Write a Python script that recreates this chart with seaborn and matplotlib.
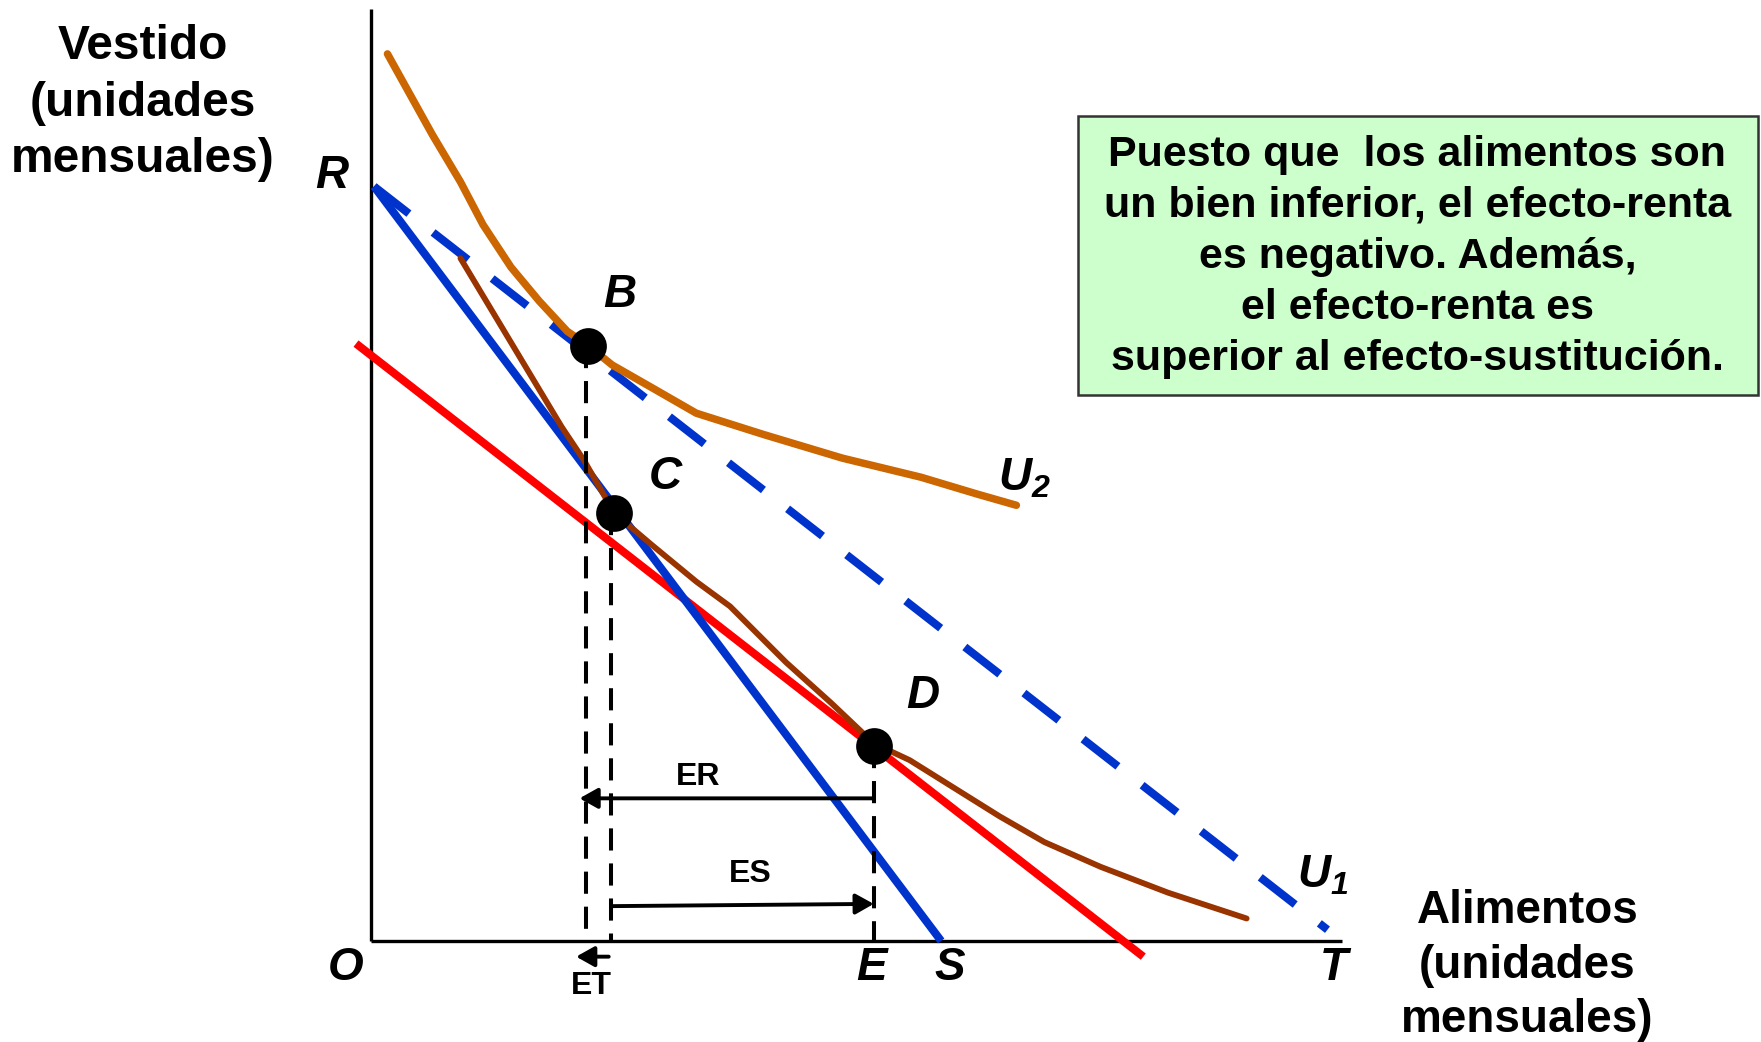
import numpy as np
import matplotlib
matplotlib.use("Agg")
import matplotlib.pyplot as plt
from matplotlib.patches import Rectangle
import seaborn as sns

# coordinates: origin O at the axes corner, units ~ pixels of the 1568-wide view
budget_rs_x = [3, 508]
budget_rs_y = [672, 0]
budget_rt_x = [3, 852]
budget_rt_y = [672, 10]
red_x = [-13, 688]
red_y = [532, -14]

u2_x = [15, 30, 55, 80, 100, 125, 150, 175, 194, 215, 250, 290, 350, 420, 490, 540, 575]
u2_y = [790, 763, 718, 676, 638, 600, 570, 543, 530, 513, 493, 470, 451, 430, 413, 398, 388]

u1_x = [80, 110, 140, 170, 190, 217, 250, 290, 320, 370, 410, 448, 480, 520, 560, 600, 650, 710, 780]
u1_y = [608, 558, 508, 458, 428, 381, 353, 320, 298, 248, 212, 176, 161, 136, 111, 88, 66, 43, 20]

pt_names = ["B", "C", "D"]
pt_x = [194, 217, 448]
pt_y = [530, 381, 174]
drop_x = [191.5, 214, 448]

er_from, er_to, er_y = 448, 186, 127
es_from, es_to, es_y0, es_y1 = 214, 448, 31, 33
et_from, et_to, et_y = 212, 183, -14

note = ("Puesto que  los alimentos son\nun bien inferior, el efecto-renta\n"
        "es negativo. Además,\nel efecto-renta es\nsuperior al efecto-sustitución.")

sns.set_theme(style="white")
plt.rcParams['font.family'] = ['Liberation Sans', 'DejaVu Sans']
plt.rcParams['mathtext.fontset'] = 'custom'
plt.rcParams['mathtext.rm'] = 'Liberation Sans:italic:bold'
plt.rcParams['mathtext.it'] = 'Liberation Sans:italic:bold'

fig = plt.figure(figsize=(17.61, 10.42), dpi=100)
ax = fig.add_axes([0, 0, 1, 1])
ax.set_xlim(-330, 1238)
ax.set_ylim(-90, 838)
ax.axis('off')

blue = '#0033CC'
# axes
ax.plot([0, 0], [0, 830], color='black', lw=2.4, solid_capstyle='butt')
ax.plot([0, 865], [0, 0], color='black', lw=2.4, solid_capstyle='butt')

ax.plot(red_x, red_y, color='#FF0000', lw=5.8, solid_capstyle='butt')
ax.plot(budget_rs_x, budget_rs_y, color=blue, lw=5.8, solid_capstyle='butt')
ln, = ax.plot(budget_rt_x, budget_rt_y, color=blue, lw=5.8, dash_capstyle='butt')
ln.set_dashes((5.5, 3.8))

sns.lineplot(x=u1_x, y=u1_y, sort=False, estimator=None, color='#993300', lw=4.2,
             solid_capstyle='round', solid_joinstyle='round', ax=ax)
sns.lineplot(x=u2_x, y=u2_y, sort=False, estimator=None, color='#CC6600', lw=5.4,
             solid_capstyle='round', solid_joinstyle='round', ax=ax)

for xd, yd in zip(drop_x, pt_y):
    l, = ax.plot([xd, xd], [yd, 0], color='black', lw=2.9, dash_capstyle='butt')
    l.set_dashes((5.5, 3.2))

sns.scatterplot(x=pt_x, y=pt_y, s=600, color='black', edgecolor='black', zorder=5, ax=ax)

arr = dict(arrowstyle='-|>,head_length=0.5,head_width=0.28', color='black', lw=2.8,
           shrinkA=0, shrinkB=0, mutation_scale=22)
ax.annotate('', xy=(er_to, er_y), xytext=(er_from, er_y), arrowprops=arr)
ax.annotate('', xy=(es_to, es_y1), xytext=(es_from, es_y0), arrowprops=arr)
ax.annotate('', xy=(et_to, et_y), xytext=(et_from, et_y), arrowprops=arr)

bold = dict(fontweight='bold', color='black')
lab = dict(fontweight='bold', fontstyle='italic', fontsize=33, color='black',
           ha='center', va='center')

ax.text(-203, 746, "Vestido\n(unidades\nmensuales)", fontsize=34.5, ha='center',
        va='center', multialignment='center', linespacing=1.33, **bold)
ax.text(1030, -22, "Alimentos\n(unidades\nmensuales)", fontsize=33, ha='center',
        va='center', multialignment='center', linespacing=1.3, **bold)

ax.text(-35, 681, "R", **lab)
for n, x, y in zip(pt_names, [222, 262, 492], [575, 413, 218]):
    ax.text(x, y, n, **lab)
ax.text(-22, -24, "O", **lab)
ax.text(446, -24, "E", **lab)
ax.text(516, -24, "S", **lab)
ax.text(858, -24, "T", **lab)
ax.text(582, 412, "$U_2$", **lab)
ax.text(848, 58, "$U_1$", **lab)

ax.text(292, 146, "ER", fontsize=23, ha='center', va='center', **bold)
ax.text(338, 60, "ES", fontsize=23, ha='center', va='center', **bold)
ax.text(197, -40, "ET", fontsize=23, ha='center', va='center', **bold)

ax.add_patch(Rectangle((630, 486), 605, 249, facecolor='#CCFFCC', edgecolor='#333333',
                       lw=1.8, zorder=6))
ax.text(932, 609, note, fontsize=31, ha='center', va='center', multialignment='center',
        linespacing=1.36, zorder=7, **bold)

fig.savefig('out.png', dpi=100)
